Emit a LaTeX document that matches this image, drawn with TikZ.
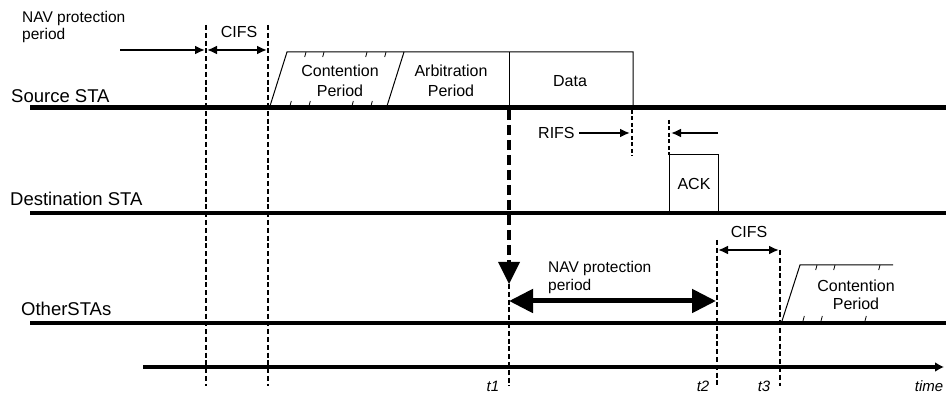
\documentclass[tikz,border=0pt]{standalone}
\usepackage{fontspec}
\setmainfont{Liberation Sans}
\usetikzlibrary{arrows.meta}
\begin{document}
\begin{tikzpicture}[x=1pt,y=-1pt,
  lbl/.style={inner sep=0pt,font=\fontsize{18.5}{20}\selectfont,anchor=base west},
  navlbl/.style={inner sep=0pt,font=\fontsize{15.5}{17.5}\selectfont,anchor=base west},
  inlbl/.style={inner sep=0pt,font=\fontsize{16}{20}\selectfont,anchor=base},
  tlbl/.style={inner sep=0pt,font=\fontsize{15}{16}\selectfont\itshape,anchor=base},
  staline/.style={line width=4pt},
  vdash/.style={line width=2.6pt,dash pattern=on 5pt off 2.8pt},
  rdash/.style={line width=2.2pt,dash pattern=on 4pt off 2.5pt},
  box/.style={line width=1pt},
  tick/.style={line width=0.8pt},
  sarrow/.style={line width=2pt,-{Latex[length=10pt,width=9pt]}},
  darrow/.style={line width=2pt,{Latex[length=10pt,width=9pt]}-{Latex[length=10pt,width=9pt]}},
  barrow/.style={line width=5pt,{Triangle[length=24pt,width=23pt]}-{Triangle[length=24pt,width=23pt]}}
]
\useasboundingbox (0,0) rectangle (946,395);
\fill[white] (0,0) rectangle (946,395);

% station lines
\coordinate (s0) at (30,108); \coordinate (s1) at (946,108);
\coordinate (d0) at (30,213); \coordinate (d1) at (946,213);
\coordinate (o0) at (30,323); \coordinate (o1) at (946,323);
\draw[staline,line width=5pt] (s0) -- (s1);
\draw[staline] (d0) -- (d1);
\draw[staline] (o0) -- (o1);

% time axis
\coordinate (ta) at (143,367); \coordinate (tb) at (944,367);
\draw[line width=3.5pt,-{Latex[length=9pt,width=10pt]}] (ta) -- (tb);

% labels
\node[lbl] (src) at (11,103) {Source STA};
\node[lbl] (dst) at (10,206) {Destination STA};
\node[lbl] (oth) at (21,316) {OtherSTAs};
\node[navlbl] (nav1a) at (22,23) {NAV protection};
\node[navlbl] (nav1b) at (22,40) {period};

% vertical dashed lines
\coordinate (v1t) at (206,25); \coordinate (v1b) at (206,386);
\coordinate (v2t) at (268,25); \coordinate (v2b) at (268,386);
\draw[vdash] (v1t) -- (v1b);
\draw[vdash] (v2t) -- (v2b);

% NAV and CIFS arrows at top
\coordinate (na0) at (120,50); \coordinate (na1) at (205,50);
\coordinate (ca0) at (207,50); \coordinate (ca1) at (267,50);
\draw[sarrow] (na0) -- (na1);
\draw[darrow] (ca0) -- (ca1);
\node[inlbl] (cifs1) at (239,38) {CIFS};

% Source STA frames
\coordinate (cp1) at (270,106); \coordinate (cp2) at (287,52);
\coordinate (cp3) at (404,52); \coordinate (cp4) at (387,106);
\coordinate (db1) at (509,52); \coordinate (db2) at (633,52);
\coordinate (db3) at (633,106); \coordinate (db4) at (509,106);
\draw[box] (cp1) -- (cp2) -- (db2) -- (db3);
\draw[box] (cp3) -- (cp4);
\draw[box] (db1) -- (db4);
\foreach \x in {306,324,367,386} \draw[tick] (\x,52) -- (\x-1.3,57);
\foreach \x in {290,309,352,371} \draw[tick] (\x+1.3,101) -- (\x,106);
\node[inlbl] (cont1a) at (340,77) {Contention};
\node[inlbl] (cont1b) at (340,97) {Period};
\node[inlbl] (arba) at (451,77) {Arbitration};
\node[inlbl] (arbb) at (451,97) {Period};
\node[inlbl] (data) at (570,87) {Data};

% RIFS
\coordinate (r1t) at (632,110); \coordinate (r1b) at (632,156);
\coordinate (r2t) at (669,120); \coordinate (r2b) at (669,155);
\draw[rdash] (r1t) -- (r1b);
\draw[rdash] (r2t) -- (r2b);
\node[inlbl,anchor=base west] (rifs) at (538,139) {RIFS};
\coordinate (ra0) at (579,133); \coordinate (ra1) at (630,133);
\coordinate (rb0) at (718,133); \coordinate (rb1) at (671,133);
\draw[sarrow] (ra0) -- (ra1);
\draw[sarrow] (rb0) -- (rb1);

% ACK
\coordinate (ak1) at (669,211); \coordinate (ak2) at (669,155);
\coordinate (ak3) at (718,155); \coordinate (ak4) at (718,211);
\draw[box] (ak1) -- (ak2) -- (ak3) -- (ak4);
\node[inlbl] (acktxt) at (694,190) {ACK};

% t1 dashed with arrow
\coordinate (t1a) at (509,110); \coordinate (t1b) at (509,262);
\coordinate (t1c) at (509,284); \coordinate (t1d) at (509,386);
\draw[line width=4pt,dash pattern=on 10pt off 5pt] (t1a) -- (t1b);
\fill (498,262) -- (520,262) -- (t1c) -- cycle;
\draw[vdash] (t1c) -- (t1d);

% other STA
\coordinate (t2a) at (717,240); \coordinate (t2b) at (717,386);
\coordinate (t3a) at (780,250); \coordinate (t3b) at (780,386);
\draw[vdash] (t2a) -- (t2b);
\draw[vdash] (t3a) -- (t3b);
\coordinate (c2a) at (718,250); \coordinate (c2b) at (779,250);
\draw[darrow] (c2a) -- (c2b);
\node[inlbl] (cifs2) at (749,238) {CIFS};

\node[navlbl] (nav2a) at (548,273) {NAV protection};
\node[navlbl] (nav2b) at (548,291) {period};
\coordinate (nb0) at (509,301); \coordinate (nb1) at (716,301);
\draw[barrow] (nb0) -- (nb1);

% contention period (others)
\coordinate (q1) at (782,321); \coordinate (q2) at (800,265); \coordinate (q3) at (893,265);
\draw[box] (q1) -- (q2) -- (q3);
\foreach \x in {817,835,880} \draw[tick] (\x,265) -- (\x-1.3,270);
\foreach \x in {803,821,865} \draw[tick] (\x+1.3,316) -- (\x,321);
\node[inlbl] (cont2a) at (856,292) {Contention};
\node[inlbl] (cont2b) at (856,310) {Period};

% time labels
\node[tlbl] (lt1) at (493,392) {t1};
\node[tlbl] (lt2) at (703,392) {t2};
\node[tlbl] (lt3) at (764,392) {t3};
\node[tlbl] (ltime) at (929,392) {time};
\end{tikzpicture}
\end{document}
